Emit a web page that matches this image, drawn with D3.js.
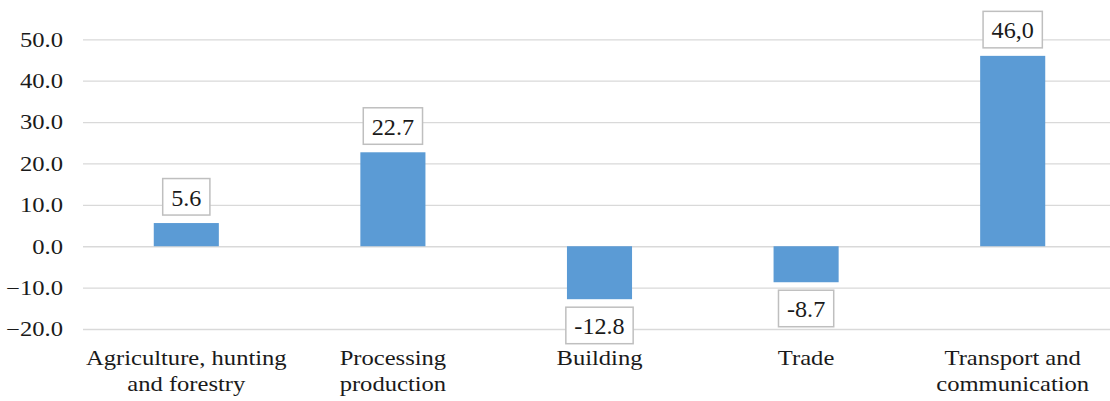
<!DOCTYPE html>
<html>
<head>
<meta charset="utf-8">
<script src="https://cdn.jsdelivr.net/npm/d3@7"></script>
<style>
  html, body { margin: 0; padding: 0; background: #fff; }
  svg { display: block; }
  text { font-family: "Liberation Serif", "Times New Roman", serif; fill: #1a1a1a; }
</style>
</head>
<body>
<svg id="chart" width="1110" height="401"></svg>
<script>
// Growth by sector, %
const categories = [
  ["Agriculture, hunting", "and forestry"],
  ["Processing", "production"],
  ["Building"],
  ["Trade"],
  ["Transport and", "communication"]
];
const values = [5.6, 22.7, -12.8, -8.7, 46.0];
const valueLabels = ["5.6", "22.7", "-12.8", "-8.7", "46,0"];
const tickValues = [-20, -10, 0, 10, 20, 30, 40, 50];

const W = 1110, H = 401;
const svg = d3.select("#chart");

const x = d3.scaleBand()
  .domain(d3.range(values.length))
  .range([83, 1116])
  .paddingInner(0.685)
  .paddingOuter(0.3425);

const y = d3.scaleLinear()
  .domain([-20, 50])
  .range([329, 39.3]);

// Gridlines and tick labels
const axis = d3.axisLeft(y)
  .tickValues(tickValues)
  .tickFormat(d3.format(".1f"))
  .tickSize(-(W - 83))
  .tickPadding(0);

const gAxis = svg.append("g")
  .attr("transform", "translate(83,0)")
  .call(axis);
gAxis.select(".domain").remove();
gAxis.selectAll(".tick line")
  .attr("stroke", "#d9d9d9")
  .attr("stroke-width", 1.3);
gAxis.selectAll(".tick text")
  .attr("x", 0)
  .attr("dy", "0.33em")
  .attr("transform", "translate(-20,0) scale(1.2,1)")
  .attr("text-anchor", "end")
  .style("font-size", "20.5px")
  .style("fill", "#1a1a1a");

// Bars
svg.append("g")
  .selectAll("rect")
  .data(values)
  .join("rect")
  .attr("x", (d, i) => x(i))
  .attr("width", x.bandwidth())
  .attr("y", d => y(Math.max(0, d)))
  .attr("height", d => Math.abs(y(d) - y(0)))
  .attr("fill", "#5b9bd5");

// Value labels in boxes
const boxH = 36.5, gap = 8, padX = 8.5;
const labels = svg.append("g")
  .selectAll("g")
  .data(values)
  .join("g");

labels.each(function (d, i) {
  const g = d3.select(this);
  const cx = x(i) + x.bandwidth() / 2;
  const top = d >= 0 ? y(d) - gap - boxH : y(d) + gap;
  const rect = g.append("rect");
  const t = g.append("text")
    .attr("text-anchor", "middle")
    .attr("transform", `translate(${cx},${top + boxH - 9.5}) scale(1.05,1)`)
    .style("font-size", "23px")
    .text(valueLabels[i]);
  const w = t.node().getComputedTextLength() * 1.05 + padX * 2;
  rect.attr("x", cx - w / 2)
    .attr("y", top)
    .attr("width", w)
    .attr("height", boxH)
    .attr("fill", "#fff")
    .attr("stroke", "#bfbfbf")
    .attr("stroke-width", 1.5);
});

// Category labels
const cat = svg.append("g")
  .selectAll("g")
  .data(categories)
  .join("g");

cat.each(function (lines, i) {
  const cx = x(i) + x.bandwidth() / 2;
  d3.select(this).selectAll("text")
    .data(lines)
    .join("text")
    .attr("text-anchor", "middle")
    .attr("transform", (l, j) => `translate(${cx},${365 + j * 25.5}) scale(1.2,1)`)
    .style("font-size", "20.5px")
    .text(l => l);
});
</script>
</body>
</html>
